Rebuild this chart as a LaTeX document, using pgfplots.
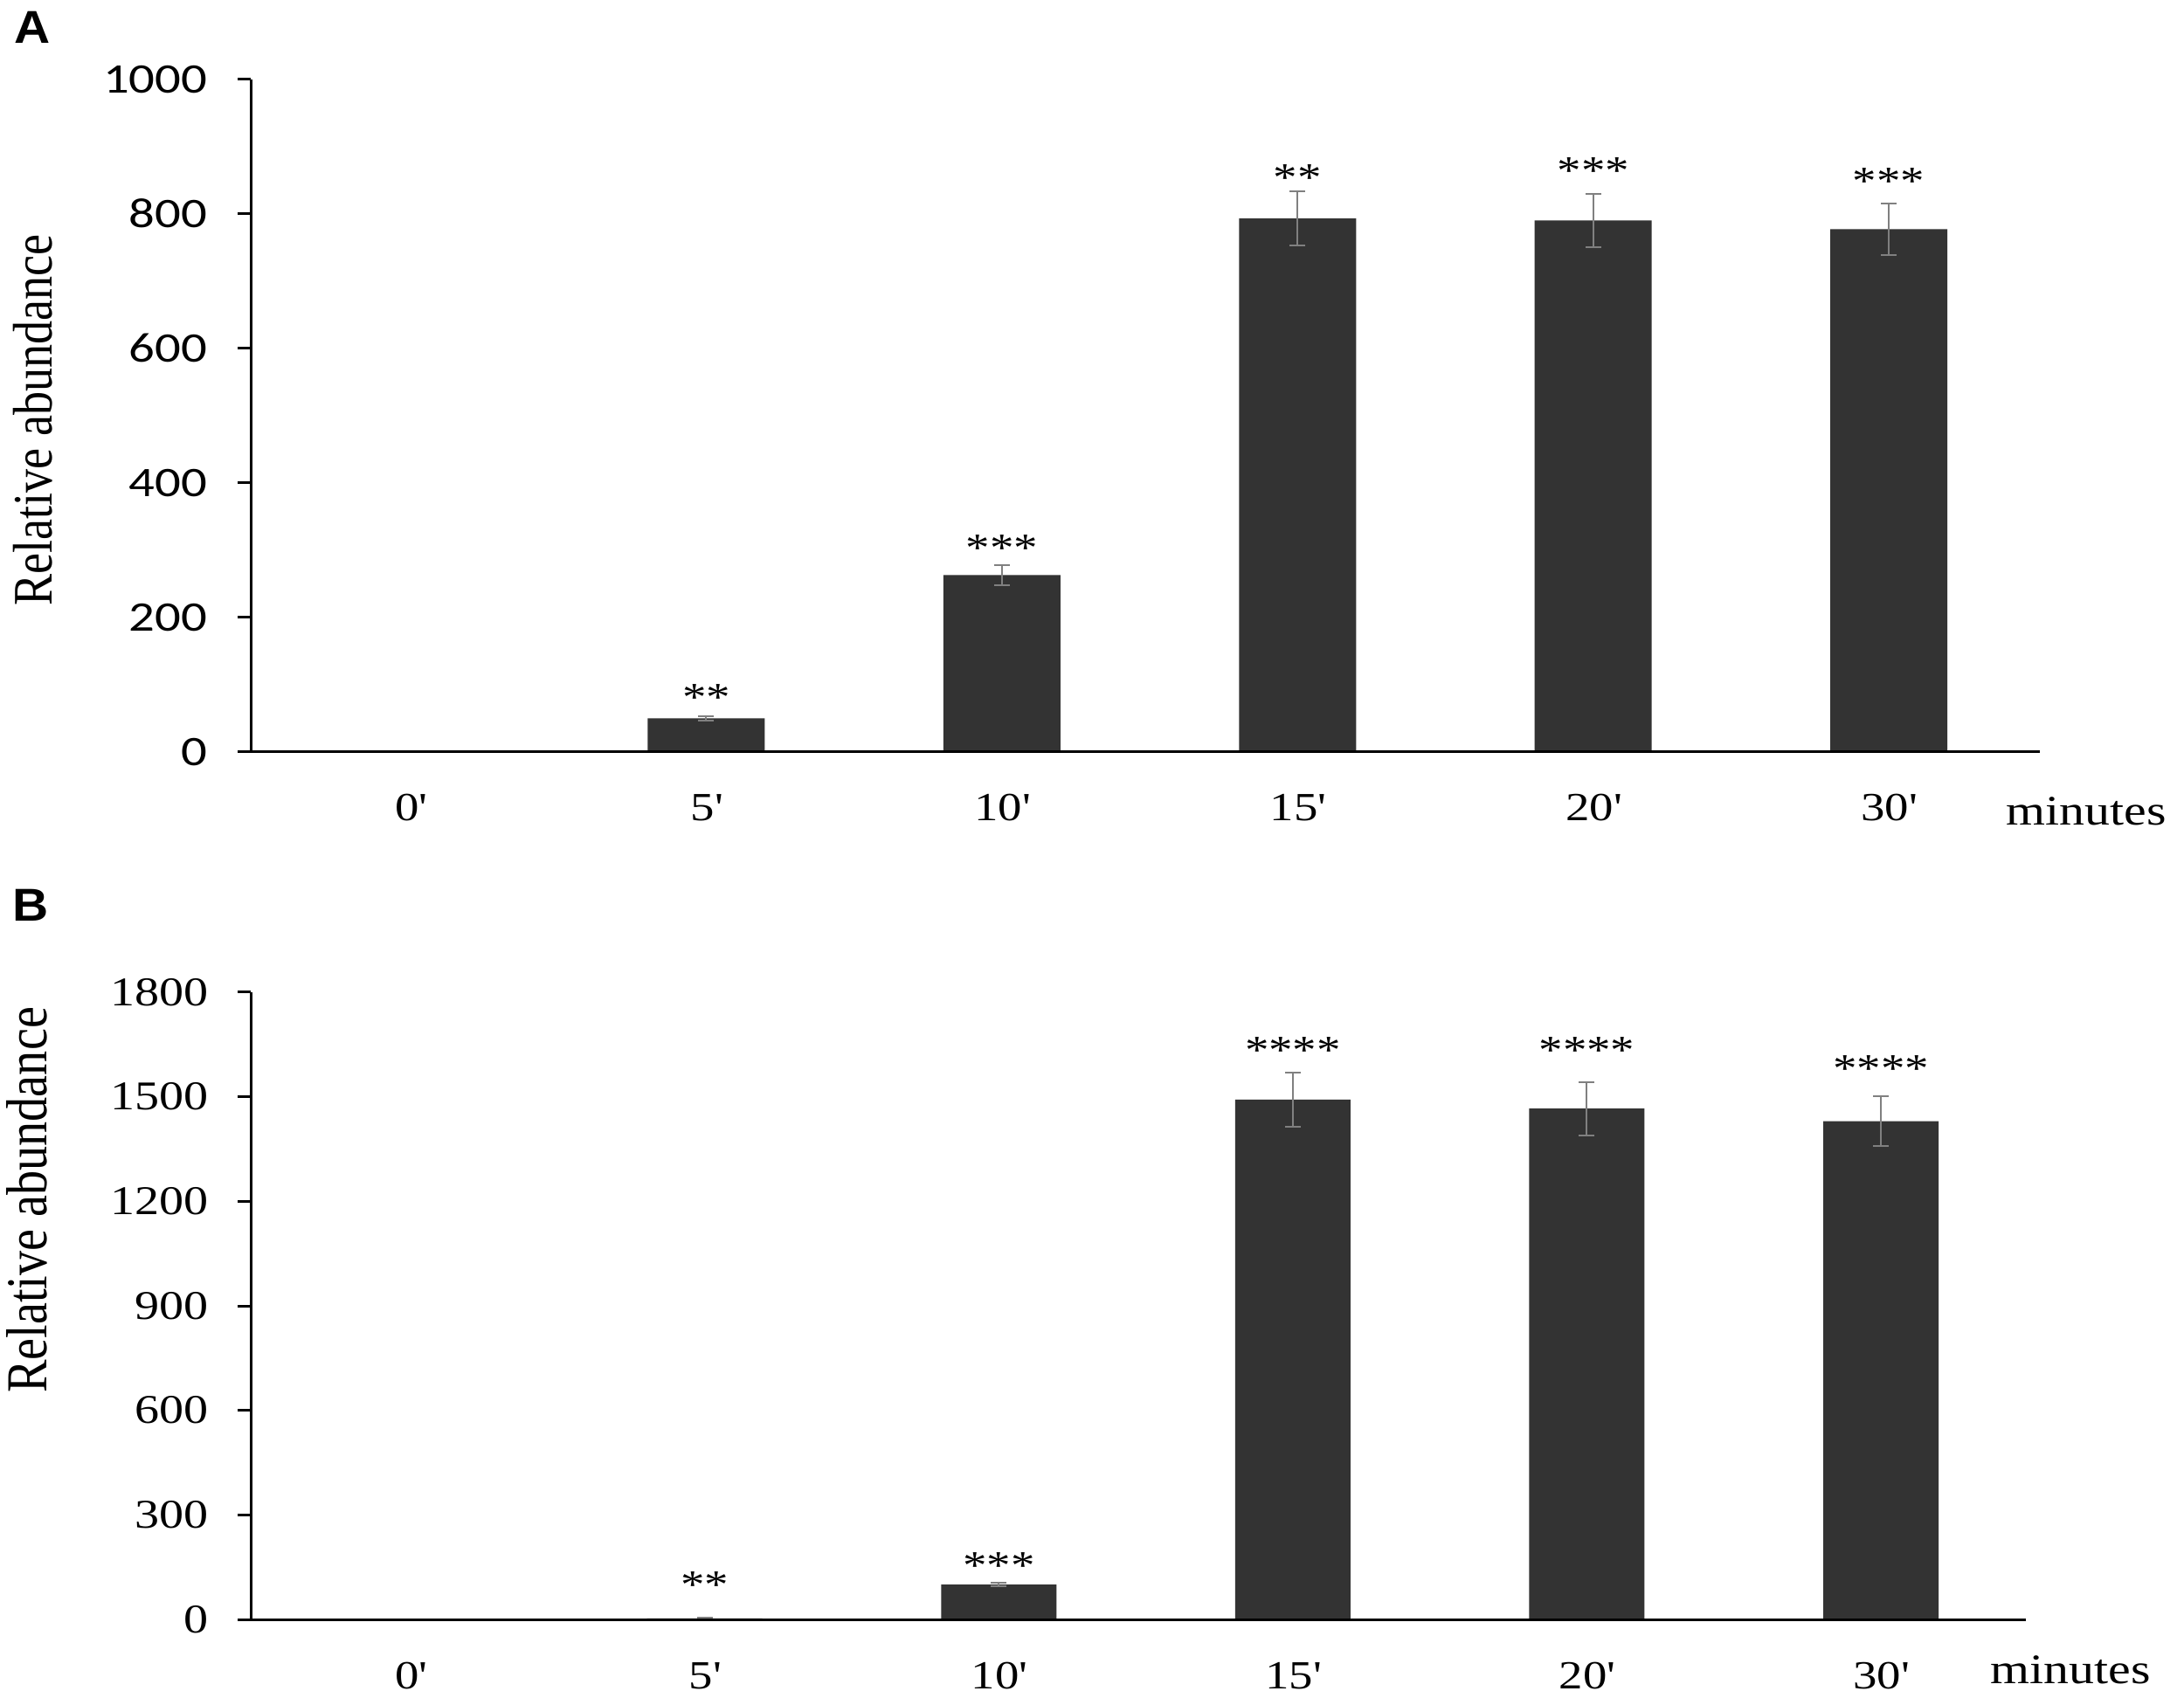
\documentclass[border=0pt]{standalone}
\usepackage{pgfplots}
\pgfplotsset{compat=1.18}
\usepackage{pgfplotstable}
\usepackage{fontspec}
\setmainfont{Liberation Serif}
\newfontfamily\tms{Liberation Serif}[FakeStretch=1.2]
\newfontfamily\tmsplain{Liberation Serif}
\newfontfamily\calibri{Carlito}[FakeStretch=1.22]
\newfontfamily\arl{Liberation Sans}[FakeStretch=1.08]
\definecolor{barc}{HTML}{333333}
\definecolor{errc}{HTML}{808080}

\pgfplotstableread{
x y err
0 0 0
1 50 3
2 263 15
3 793 40
4 790 40
5 777 38
}\dataA
\pgfplotstableread{
x y err
0 0 0
1 3 1
2 100 5
3 1492 77
4 1466 77
5 1430 72
}\dataB

\pgfplotsset{
  panel/.style={
    scale only axis, clip=false, axis on top,
    axis x line=bottom, axis y line=left,
    axis line style={-, line width=0.3mm, black},
    xtick={0,...,5},
    xticklabels={0\textquotesingle,5\textquotesingle,10\textquotesingle,15\textquotesingle,20\textquotesingle,30\textquotesingle},
    x tick style={draw=none},
    y tick style={line width=0.3mm, black},
    major tick length=1.5mm, tick align=outside,
    xticklabel style={font=\tms\fontsize{13}{13}\selectfont, anchor=base, inner sep=0pt, yshift=-6.4mm},
    /pgf/number format/assume math mode=true,
    /pgf/number format/1000 sep={},
    ybar, bar shift=0pt,
  },
  barplot/.style={fill=barc, draw=none,
    error bars/.cd, y dir=both, y explicit,
    error bar style={line width=0.2mm, color=errc},
    error mark options={rotate=90, line width=0.2mm, mark size=0.9mm, color=errc}},
}

\begin{document}
\begin{tikzpicture}[x=1mm,y=1mm]
\path[use as bounding box] (0,0) rectangle (250,195.1);

% Panel A
\begin{axis}[panel,
  at={(28.7mm,109.0mm)}, anchor=south west,
  width=204.8mm, height=77.04mm,
  xmin=-0.541, xmax=5.511, ymin=0, ymax=1000,
  ytick={0,200,...,1000},
  yticklabel style={font=\calibri\fontsize{13.7}{13.7}\selectfont, anchor=east, inner sep=0pt, xshift=-3.4mm},
  bar width=13.4mm]
\addplot[barplot] table[x=x, y=y, y error=err] {\dataA};
\begin{scope}[every node/.style={font=\tms\fontsize{13}{13}\selectfont, inner sep=0pt, anchor=center}]
\node at (axis cs:1,81) {**};
\node at (axis cs:2,303) {***};
\node at (axis cs:3,853) {**};
\node at (axis cs:4,864) {***};
\node at (axis cs:5,848) {***};
\end{scope}
\end{axis}

% Panel B
\begin{axis}[panel,
  at={(28.7mm,9.7mm)}, anchor=south west,
  width=203.2mm, height=71.8mm,
  xmin=-0.544, xmax=5.493, ymin=0, ymax=1800,
  ytick={0,300,...,1800},
  yticklabel style={font=\tms\fontsize{13.3}{13.3}\selectfont, anchor=east, inner sep=0pt, xshift=-3.3mm},
  bar width=13.2mm]
\addplot[barplot] table[x=x, y=y, y error=err] {\dataB};
\begin{scope}[every node/.style={font=\tms\fontsize{13}{13}\selectfont, inner sep=0pt, anchor=center}]
\node at (axis cs:1,99) {**};
\node at (axis cs:2,154) {***};
\node at (axis cs:3,1634) {****};
\node at (axis cs:4,1634) {****};
\node at (axis cs:5,1581) {****};
\end{scope}
\end{axis}

% Labels
\node[anchor=base west, inner sep=0pt, font=\arl\bfseries\fontsize{15}{15}\selectfont] at (1.6,190.1) {A};
\node[anchor=base west, inner sep=0pt, font=\arl\bfseries\fontsize{15}{15}\selectfont] at (1.4,89.6) {B};
\node[rotate=90, anchor=base, inner sep=0pt, font=\tmsplain\fontsize{15.4}{15.4}\selectfont] at (6.0,147.0) {\scalebox{1}[1.18]{Relative abundance}};
\node[rotate=90, anchor=base, inner sep=0pt, font=\tmsplain\fontsize{16}{16}\selectfont] at (5.4,57.7) {\scalebox{1}[1.18]{Relative abundance}};
\node[anchor=base, inner sep=0pt, font=\tms\fontsize{13.7}{13.7}\selectfont] at (238.8,100.6) {minutes};
\node[anchor=base, inner sep=0pt, font=\tms\fontsize{13.7}{13.7}\selectfont] at (237.0,2.4) {minutes};
\end{tikzpicture}
\end{document}
